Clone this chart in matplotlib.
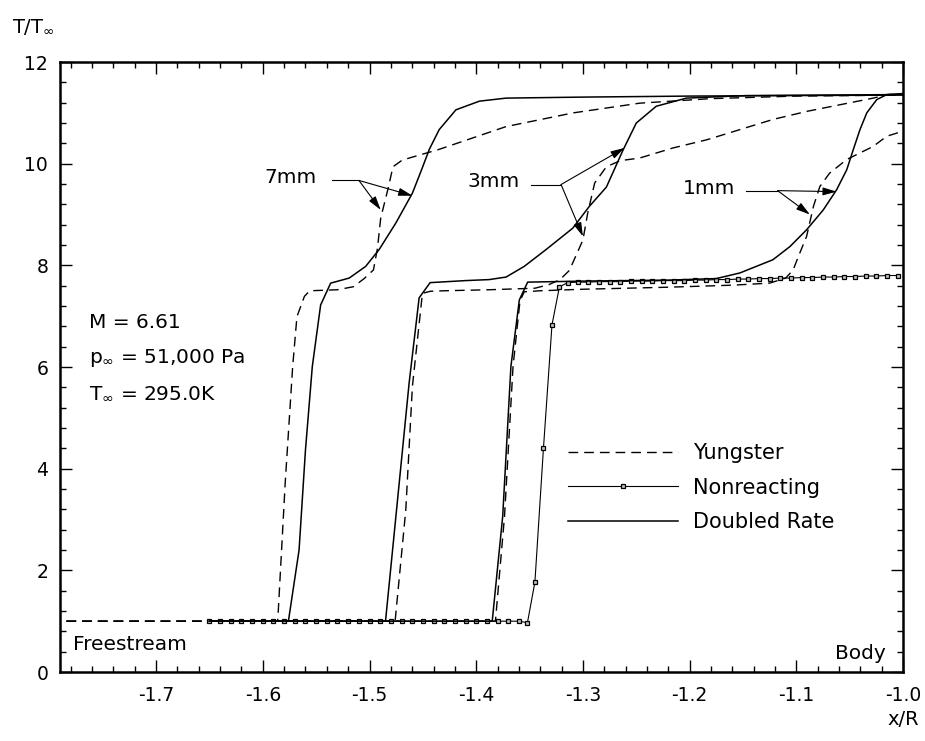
import numpy as np
import matplotlib.pyplot as plt
from matplotlib.ticker import MultipleLocator, FormatStrFormatter

plt.rcParams['font.family'] = ['DejaVu Sans']
plt.rcParams['mathtext.fontset'] = 'dejavusans'
plt.rcParams['axes.unicode_minus'] = False

# Yungster model (dashed), three standoff cases
yung_7mm_x = [-1.784, -1.586, -1.579, -1.572, -1.568, -1.561, -1.556, -1.530, -1.515,
              -1.505, -1.4963, -1.4925, -1.4895, -1.4826, -1.478, -1.470, -1.463, -1.435,
              -1.372, -1.309, -1.247, -1.18, -1.10, -1.0]
yung_7mm_y = [1.0, 1.0, 3.72, 6.01, 6.99, 7.39, 7.50, 7.52, 7.58,
              7.74, 7.91, 8.34, 8.93, 9.51, 9.94, 10.06, 10.11, 10.28,
              10.73, 11.0, 11.19, 11.28, 11.33, 11.35]

yung_3mm_x = [-1.784, -1.476, -1.466, -1.4598, -1.4504, -1.443, -1.43, -1.388, -1.345,
              -1.332, -1.3215, -1.3127, -1.300, -1.2955, -1.289, -1.278, -1.265, -1.247,
              -1.2155, -1.184, -1.153, -1.122, -1.090, -1.059, -1.028, -1.014, -1.0]
yung_3mm_y = [1.0, 1.0, 3.19, 5.62, 7.45, 7.49, 7.50, 7.52, 7.55,
              7.62, 7.72, 7.90, 8.50, 9.03, 9.62, 9.94, 10.06, 10.11,
              10.31, 10.47, 10.67, 10.87, 11.03, 11.16, 11.29, 11.36, 11.37]

yung_1mm_x = [-1.784, -1.382, -1.3735, -1.3655, -1.359, -1.355, -1.34, -1.30, -1.22,
              -1.16, -1.125, -1.110, -1.103, -1.098, -1.0904, -1.084, -1.078, -1.069,
              -1.053, -1.028, -1.0153, -1.0]
yung_1mm_y = [1.0, 1.0, 3.06, 6.01, 7.30, 7.48, 7.50, 7.53, 7.57,
              7.61, 7.65, 7.75, 7.91, 8.18, 8.57, 9.16, 9.55, 9.81,
              10.08, 10.34, 10.54, 10.64]

# doubled reaction rate (solid)
dbl_7mm_x = [-1.65, -1.576, -1.566, -1.560, -1.5536, -1.5458, -1.5364, -1.519, -1.5036,
             -1.491, -1.4754, -1.4598, -1.4514, -1.444, -1.4347, -1.419, -1.397, -1.372,
             -1.30, -1.20, -1.10, -1.0]
dbl_7mm_y = [1.0, 1.0, 2.40, 4.37, 6.01, 7.22, 7.65, 7.75, 7.98,
             8.31, 8.83, 9.42, 9.87, 10.28, 10.67, 11.06, 11.23, 11.29,
             11.31, 11.33, 11.34, 11.35]

dbl_3mm_x = [-1.65, -1.485, -1.4629, -1.4535, -1.4432, -1.41, -1.3878, -1.372, -1.355,
             -1.3346, -1.3096, -1.294, -1.278, -1.2626, -1.25, -1.2313, -1.203, -1.147,
             -1.0]
dbl_3mm_y = [1.0, 1.0, 5.68, 7.36, 7.66, 7.70, 7.72, 7.77, 7.98,
             8.31, 8.73, 9.16, 9.54, 10.26, 10.80, 11.13, 11.29, 11.34,
             11.36]

dbl_1mm_x = [-1.65, -1.385, -1.3752, -1.3675, -1.3596, -1.3518, -1.30, -1.22, -1.175,
             -1.153, -1.122, -1.106, -1.0904, -1.0748, -1.0622, -1.0528, -1.0466, -1.0404,
             -1.034, -1.0247, -1.0153, -1.0]
dbl_1mm_y = [1.0, 1.0, 3.06, 6.01, 7.32, 7.67, 7.69, 7.71, 7.74,
             7.85, 8.11, 8.37, 8.70, 9.09, 9.49, 9.88, 10.28, 10.67,
             11.0, 11.26, 11.36, 11.38]

# nonreacting (solid with square symbols)
nr_x = [-1.65, -1.64, -1.63, -1.62, -1.61, -1.60, -1.59, -1.58, -1.57, -1.56,
        -1.55, -1.54, -1.53, -1.52, -1.51, -1.50, -1.49, -1.48, -1.47, -1.46,
        -1.45, -1.44, -1.43, -1.42, -1.41, -1.40, -1.39, -1.38, -1.37, -1.36,
        -1.352, -1.345, -1.337, -1.329, -1.322, -1.314,
        -1.305, -1.295, -1.285, -1.275, -1.265, -1.255, -1.245, -1.235, -1.225, -1.215,
        -1.205, -1.195, -1.185, -1.175, -1.165, -1.155, -1.145, -1.135, -1.125, -1.115,
        -1.105, -1.095, -1.085, -1.075, -1.065, -1.055, -1.045, -1.035, -1.025, -1.015,
        -1.005]
nr_y = [1.0, 1.0, 1.0, 1.0, 1.0, 1.0, 1.0, 1.0, 1.0, 1.0,
        1.0, 1.0, 1.0, 1.0, 1.0, 1.0, 1.0, 1.0, 1.0, 1.0,
        1.0, 1.0, 1.0, 1.0, 1.0, 1.0, 1.0, 1.0, 1.0, 1.0,
        0.97, 1.77, 4.40, 6.83, 7.58, 7.66,
        7.67, 7.67, 7.68, 7.68, 7.68, 7.69, 7.69, 7.69, 7.70, 7.70,
        7.70, 7.71, 7.71, 7.72, 7.72, 7.73, 7.73, 7.74, 7.74, 7.75,
        7.75, 7.76, 7.76, 7.77, 7.77, 7.78, 7.78, 7.79, 7.79, 7.80,
        7.80]

fig = plt.figure(figsize=(9.25, 7.41), dpi=100)
ax = fig.add_axes([0.0649, 0.0931, 0.9114, 0.8232])

dash = (0, (7, 4.3))
ax.plot(yung_7mm_x, yung_7mm_y, color='k', lw=1.0, ls=dash, label='Yungster')
ax.plot(yung_3mm_x, yung_3mm_y, color='k', lw=1.0, ls=dash)
ax.plot(yung_1mm_x, yung_1mm_y, color='k', lw=1.0, ls=dash)

nr_line, = ax.plot(nr_x, nr_y, color='k', lw=0.8, marker='s', ms=3.2,
                   mfc='0.75', mec='k', mew=0.9, label='Nonreacting')

ax.plot(dbl_7mm_x, dbl_7mm_y, color='k', lw=1.1, label='Doubled Rate')
ax.plot(dbl_3mm_x, dbl_3mm_y, color='k', lw=1.1)
ax.plot(dbl_1mm_x, dbl_1mm_y, color='k', lw=1.1)

# case labels with leader lines and arrows
arrow = dict(arrowstyle='-|>,head_length=0.7,head_width=0.2', color='k', lw=0.8,
             mutation_scale=12, shrinkA=0, shrinkB=0)
cases = [("7mm", -1.5497, 9.72, -1.5352, -1.5099, [(-1.4598, 9.37), (-1.4895, 9.09)]),
         ("3mm", -1.3593, 9.64, -1.3486, -1.3205, [(-1.2610, 10.31), (-1.300, 8.57)]),
         ("1mm", -1.1576, 9.52, -1.1468, -1.1176, [(-1.0622, 9.45), (-1.0873, 9.00)])]
for name, tx, ty, x0, x1, tips in cases:
    ax.text(tx, ty, name, fontsize=14.5, ha='right', va='center')
    ax.plot([x0, x1], [ty - 0.05, ty - 0.05], color='k', lw=0.8)
    for tip in tips:
        ax.annotate("", xy=tip, xytext=(x1, ty - 0.05), arrowprops=arrow)

ax.text(-1.763, 6.88, "M = 6.61", fontsize=14.5, va='center')
ax.text(-1.763, 6.18, r"p$_\infty$ = 51,000 Pa", fontsize=14.5, va='center')
ax.text(-1.763, 5.49, r"T$_\infty$ = 295.0K", fontsize=14.5, va='center')
ax.text(-1.778, 0.55, "Freestream", fontsize=14.5, va='center')
ax.text(-1.016, 0.37, "Body", fontsize=14.5, ha='right', va='center')

ax.legend(loc='upper left', bbox_to_anchor=(0.6026, 0.375), frameon=False,
          fontsize=15, handlelength=5.3, handletextpad=0.72, labelspacing=0.69,
          borderaxespad=0, borderpad=0, numpoints=1)

ax.set_xlim(-1.79, -1.0)
ax.set_ylim(0, 12)
ax.xaxis.set_major_locator(MultipleLocator(0.1))
ax.xaxis.set_minor_locator(MultipleLocator(0.02))
ax.xaxis.set_major_formatter(FormatStrFormatter('%.1f'))
ax.yaxis.set_major_locator(MultipleLocator(2))
ax.yaxis.set_minor_locator(MultipleLocator(0.4))
ax.tick_params(which='both', direction='in', top=True, right=True, width=1.0,
               labelsize=13.5)
ax.tick_params(which='major', length=8.5)
ax.tick_params(which='minor', length=4)
ax.tick_params(axis='x', pad=10)
ax.tick_params(axis='y', pad=8.5)
for sp in ax.spines.values():
    sp.set_linewidth(1.8)

fig.text(12 / 925, 1 - 32.5 / 741, r"T/T$_\infty$", fontsize=14, va='baseline')
fig.text(887 / 925, 1 - 725 / 741, "x/R", fontsize=14, va='baseline')

fig.savefig("out.png", dpi=100)
